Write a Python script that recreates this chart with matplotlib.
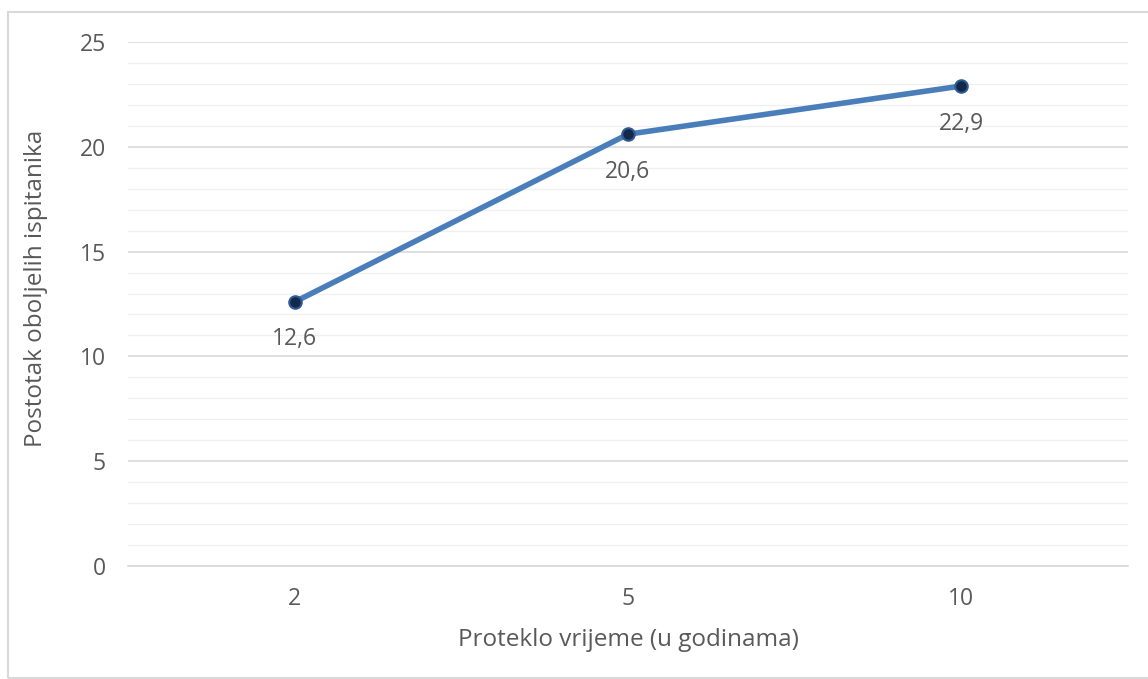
import matplotlib
matplotlib.use("Agg")
import matplotlib.pyplot as plt
from matplotlib.patches import Rectangle
from matplotlib.ticker import MultipleLocator

categories = ["2", "5", "10"]
values = [12.6, 20.6, 22.9]
value_labels = ["12,6", "20,6", "22,9"]
y_ticks = [0, 5, 10, 15, 20, 25]

W, H = 1148, 679
fig = plt.figure(figsize=(W / 100, H / 100), dpi=100)
plt.rcParams['font.family'] = ['Open Sans', 'DejaVu Sans']
txt = '#595959'
fs = 16.5
lfs = 17.5

# outer chart frame
fig.patches.append(Rectangle((8 / W, 1 / H), (W + 20) / W, (H - 13) / H,
                             transform=fig.transFigure, fill=False,
                             edgecolor='#d9d9d9', linewidth=1.5))

left, right = 128, 1128
top, bottom = 42, 566
ax = fig.add_axes([left / W, 1 - bottom / H, (right - left) / W, (bottom - top) / H])

x = list(range(len(categories)))
ax.set_xlim(-0.5, len(categories) - 0.5)
ax.set_ylim(0, 25)
ax.set_yticks(y_ticks)
ax.yaxis.set_minor_locator(MultipleLocator(1))
ax.grid(which='major', axis='y', color='#d9d9d9', linewidth=1.2)
ax.grid(which='minor', axis='y', color='#f0f0f0', linewidth=1.0)
ax.set_axisbelow(True)
for s in ['top', 'right', 'left']:
    ax.spines[s].set_visible(False)
ax.spines['bottom'].set_color('#d9d9d9')
ax.spines['bottom'].set_linewidth(1.2)
ax.tick_params(axis='both', which='both', length=0, labelsize=fs, labelcolor=txt)
ax.tick_params(axis='y', pad=16)
ax.tick_params(axis='x', pad=15)
ax.set_xticks(x)
ax.set_xticklabels(categories)

ax.plot(x, values, color='#4a7ebb', linewidth=4, solid_capstyle='round', zorder=3,
        marker='o', markersize=9, markerfacecolor='#14284b', markeredgecolor='#2e5b94',
        markeredgewidth=1.5)
for xi, v, lab in zip(x, values, value_labels):
    ax.annotate(lab, (xi, v), xytext=(0, -27), textcoords='offset points',
                ha='center', va='center', fontsize=fs, color=txt)

ax.set_xlabel('Proteklo vrijeme (u godinama)', fontsize=lfs, color=txt, labelpad=12)
ax.set_ylabel('Postotak oboljelih ispitanika', fontsize=lfs, color=txt)
ax.yaxis.set_label_coords(-0.080, 0.53)

fig.savefig('out.png', dpi=100)
